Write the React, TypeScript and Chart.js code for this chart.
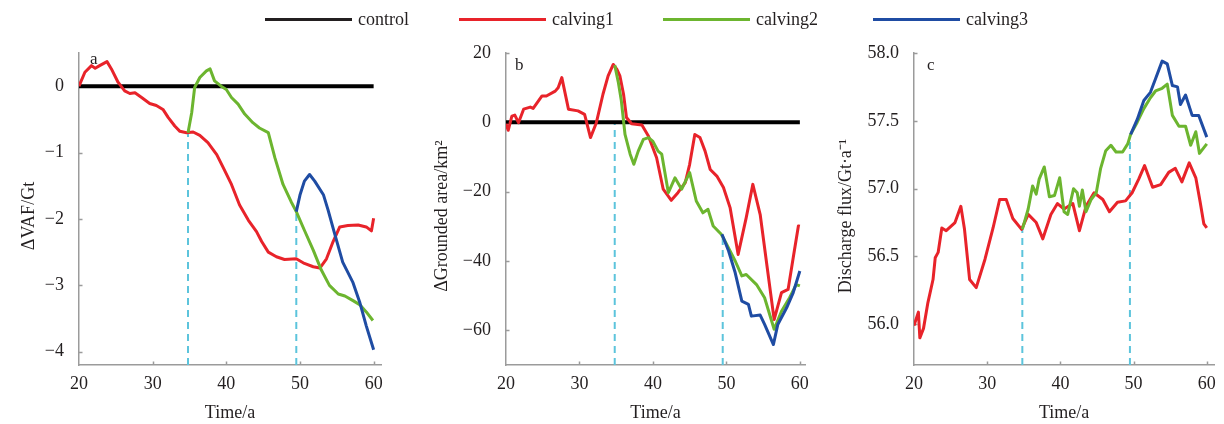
import { useEffect, useRef } from 'react';
import { Chart, registerables } from 'chart.js';

Chart.register(...registerables);

const FONT = "'Times New Roman', 'Liberation Serif', serif";
const TEXT = '#231f20';
const AXIS = '#9b9b9b';
const BLACK = '#000000';
const RED = '#e8232a';
const GREEN = '#6cb52f';
const BLUE = '#1f4ca3';
const CYAN = '#5cc4dc';

// ---------- shared ----------
const xTicks = [20, 30, 40, 50, 60];
const calvingTimes = [34.8, 49.5];

// ---------- panel a : ΔVAF/Gt ----------
const aTicks = [0, -1, -2, -3, -4];
const aControlT = [20, 60];
const aControlV = [0, 0];
const aRedT = [20, 20.8, 21.7, 22.2, 22.8, 23.8, 24.4, 25.3, 26.2, 26.9, 27.6, 28.5, 29.6, 30.5, 31.4, 32.1, 33.0, 33.7, 34.6, 35.5, 36.4, 37.5, 38.7, 39.6, 40.7, 41.8, 43.0, 44.1, 44.8, 45.7, 46.8, 47.9, 49.5, 50.6, 51.8, 52.7, 53.6, 54.5, 55.4, 56.5, 57.9, 59.0, 59.7, 60];
const aRedV = [0, 0.21, 0.31, 0.27, 0.31, 0.37, 0.26, 0.06, -0.07, -0.11, -0.10, -0.17, -0.26, -0.29, -0.35, -0.47, -0.60, -0.68, -0.70, -0.69, -0.74, -0.85, -1.03, -1.23, -1.48, -1.79, -2.02, -2.19, -2.34, -2.50, -2.57, -2.61, -2.60, -2.67, -2.72, -2.74, -2.60, -2.34, -2.12, -2.10, -2.09, -2.12, -2.18, -1.99];
const aGreenT = [34.8, 35.3, 35.7, 36.4, 37.3, 37.8, 38.4, 39.3, 40.0, 40.7, 41.6, 42.5, 43.6, 44.5, 45.7, 46.6, 47.7, 48.8, 49.5, 50.6, 51.8, 52.9, 54.0, 55.2, 56.1, 57.2, 58.1, 59.0, 59.9];
const aGreenV = [-0.70, -0.40, -0.02, 0.13, 0.23, 0.26, 0.08, 0.0, -0.05, -0.17, -0.27, -0.42, -0.55, -0.63, -0.70, -1.08, -1.48, -1.74, -1.89, -2.17, -2.47, -2.77, -3.0, -3.13, -3.16, -3.23, -3.29, -3.40, -3.53];
const aBlueT = [49.5, 50.0, 50.6, 51.3, 52.0, 53.2, 53.8, 54.6, 55.8, 57.2, 58.1, 59.0, 60.0];
const aBlueV = [-1.89, -1.64, -1.43, -1.33, -1.43, -1.64, -1.86, -2.18, -2.65, -2.96, -3.25, -3.61, -3.97];
const aDashTop = [-0.70, -1.89];

// ---------- panel b : ΔGrounded area/km² ----------
const bTicks = [20, 0, -20, -40, -60];
const bControlT = [20, 60];
const bControlV = [0, 0];
const bRedT = [20, 20.3, 20.8, 21.2, 21.7, 22.4, 23.3, 23.7, 24.9, 25.5, 26.7, 27.1, 27.6, 28.5, 29.8, 30.7, 31.5, 32.3, 33.2, 33.9, 34.6, 35.1, 35.5, 36.0, 36.4, 37.1, 38.5, 39.4, 40.5, 41.4, 42.5, 43.4, 44.4, 45.0, 45.7, 46.4, 47.1, 47.8, 48.7, 49.6, 50.5, 51.6, 52.7, 53.6, 54.6, 55.5, 56.5, 57.5, 58.4, 59.1, 59.8, 60];
const bRedV = [-0.4, -2.3, 1.8, 2.1, -0.1, 3.8, 4.4, 4.0, 7.6, 7.6, 9.0, 10.0, 12.9, 3.8, 3.3, 2.3, -4.4, -0.1, 8.1, 13.4, 16.7, 15.3, 13.4, 8.1, 1.4, -0.4, -0.8, -4.0, -10.2, -19.3, -22.5, -20.3, -17.4, -12.1, -3.5, -4.4, -8.3, -13.6, -15.5, -18.8, -24.6, -38.1, -27.5, -17.9, -26.6, -41.0, -56.9, -49.1, -48.2, -39.0, -29.9, -30.0];
const bGreenT = [34.8, 35.3, 35.7, 36.2, 36.9, 37.4, 38.0, 38.7, 39.4, 40.0, 40.7, 41.2, 42.1, 43.0, 43.9, 45.0, 45.9, 46.8, 47.5, 48.2, 49.3, 49.8, 51.2, 52.1, 52.7, 54.1, 55.2, 56.5, 57.5, 58.6, 59.5, 60];
const bGreenV = [16.5, 11.4, 6.2, -3.5, -9.2, -12.1, -8.3, -4.9, -4.4, -5.5, -8.3, -9.2, -20.3, -16.0, -19.3, -14.5, -22.7, -26.1, -25.1, -29.9, -32.3, -34.2, -40.0, -44.3, -43.9, -46.8, -50.6, -59.7, -54.5, -50.6, -46.8, -47.2];
const bBlueT = [49.4, 50.3, 51.2, 52.1, 53.0, 53.4, 54.6, 55.2, 56.4, 57.0, 58.2, 59.1, 60];
const bBlueV = [-32.3, -37.1, -43.4, -51.6, -52.5, -55.9, -55.6, -58.3, -64.1, -58.3, -53.5, -49.1, -42.9];
const bDashTop = [0, -32.3];

// ---------- panel c : Discharge flux/Gt·a⁻¹ ----------
const cTicks = [58.0, 57.5, 57.0, 56.5, 56.0];
const cRedT = [20, 20.6, 20.8, 21.3, 21.9, 22.6, 22.9, 23.3, 23.8, 24.4, 25.6, 26.4, 26.9, 27.6, 28.5, 29.7, 30.8, 31.7, 32.6, 33.5, 34.7, 35.6, 36.7, 37.6, 38.7, 39.6, 40.5, 41.7, 42.6, 43.5, 44.6, 45.8, 46.7, 47.8, 48.9, 49.8, 50.7, 51.5, 52.6, 53.7, 54.8, 55.7, 56.6, 57.6, 58.5, 59.1, 59.6, 60];
const cRedV = [55.99, 56.09, 55.90, 55.97, 56.16, 56.33, 56.49, 56.53, 56.71, 56.69, 56.75, 56.87, 56.70, 56.33, 56.27, 56.48, 56.71, 56.92, 56.92, 56.78, 56.70, 56.81, 56.75, 56.63, 56.81, 56.89, 56.85, 56.89, 56.69, 56.87, 56.97, 56.92, 56.83, 56.90, 56.91, 56.97, 57.07, 57.17, 57.01, 57.03, 57.12, 57.15, 57.05, 57.19, 57.08, 56.90, 56.74, 56.71];
const cGreenT = [34.8, 35.6, 36.2, 36.7, 37.1, 37.8, 38.5, 39.2, 39.9, 40.5, 41.0, 41.8, 42.3, 42.6, 43.0, 43.5, 44.2, 44.9, 45.5, 46.2, 46.9, 47.6, 48.5, 49.2, 49.6, 50.5, 51.4, 52.3, 53.0, 53.9, 54.6, 55.3, 56.2, 57.1, 57.8, 58.5, 59.0, 60];
const cGreenV = [56.70, 56.85, 57.02, 56.96, 57.07, 57.16, 56.94, 56.95, 57.08, 56.83, 56.81, 57.0, 56.97, 56.87, 56.99, 56.83, 56.92, 56.97, 57.15, 57.28, 57.32, 57.27, 57.27, 57.33, 57.40, 57.49, 57.59, 57.67, 57.72, 57.74, 57.77, 57.54, 57.46, 57.46, 57.32, 57.42, 57.26, 57.33];
const cBlueT = [49.6, 50.5, 51.4, 52.3, 53.0, 53.9, 54.6, 55.3, 56.0, 56.4, 57.1, 58.0, 58.9, 60];
const cBlueV = [57.40, 57.51, 57.65, 57.71, 57.81, 57.94, 57.92, 57.76, 57.75, 57.62, 57.69, 57.54, 57.54, 57.38];
const cDashTop = [56.70, 57.40];

const legendItems = [
  { label: 'control', color: TEXT, left: 265 },
  { label: 'calving1', color: RED, left: 459 },
  { label: 'calving2', color: GREEN, left: 663 },
  { label: 'calving3', color: BLUE, left: 873 },
];

const zip = (t: number[], v: number[]) => t.map((x, i) => ({ x, y: v[i] }));

const decoPlugin = {
  id: 'panelDeco',
  beforeDatasetsDraw(chart: any, _args: any, opts: any) {
    const { ctx, chartArea } = chart;
    const xs = chart.scales.x;
    const ys = chart.scales.y;
    ctx.save();
    // inward tick marks
    ctx.strokeStyle = AXIS;
    ctx.lineWidth = 1.5;
    ctx.beginPath();
    for (const t of xs.ticks) {
      if (t.value === xs.min) continue;
      const px = Math.round(xs.getPixelForValue(t.value)) + 0.5;
      ctx.moveTo(px, chartArea.bottom);
      ctx.lineTo(px, chartArea.bottom - 3.5);
    }
    for (const t of ys.ticks) {
      const py = Math.round(ys.getPixelForValue(t.value)) + 0.5;
      ctx.moveTo(chartArea.left, py);
      ctx.lineTo(chartArea.left + 3.5, py);
    }
    ctx.stroke();
    // panel letter
    ctx.fillStyle = TEXT;
    ctx.font = `17px ${FONT}`;
    ctx.textBaseline = 'alphabetic';
    ctx.textAlign = 'left';
    ctx.fillText(opts.letter, opts.lx, opts.ly);
    // y-axis title
    ctx.font = `18px ${FONT}`;
    ctx.textBaseline = 'middle';
    ctx.textAlign = 'center';
    ctx.translate(opts.tx, opts.ty);
    ctx.rotate(-Math.PI / 2);
    ctx.fillText(opts.title, 0, 0);
    ctx.restore();
  },
};

type PanelSpec = {
  letter: string;
  lx: number;
  ly: number;
  width: number;
  yWidth: number;
  rightPad: number;
  xMax: number;
  yMin: number;
  yMax: number;
  yTicks: number[];
  yTitle: string;
  tx: number;
  fmt: (v: number) => string;
  control?: { t: number[]; v: number[] };
  red: { t: number[]; v: number[] };
  green: { t: number[]; v: number[] };
  blue: { t: number[]; v: number[] };
  dashTop: number[];
};

const minusFmt = (v: number) => (v < 0 ? '\u2212' + Math.abs(v) : String(v));

const panels: PanelSpec[] = [
  {
    letter: 'a', lx: 90, ly: 64, width: 400, yWidth: 79, rightPad: 19, xMax: 61,
    yMin: -4.2, yMax: 0.5, yTicks: aTicks, yTitle: '\u0394VAF/Gt', tx: 29, fmt: minusFmt,
    control: { t: aControlT, v: aControlV },
    red: { t: aRedT, v: aRedV }, green: { t: aGreenT, v: aGreenV }, blue: { t: aBlueT, v: aBlueV },
    dashTop: aDashTop,
  },
  {
    letter: 'b', lx: 115, ly: 70, width: 420, yWidth: 106, rightPad: 15, xMax: 60.7,
    yMin: -70, yMax: 20, yTicks: bTicks, yTitle: '\u0394Grounded area/km\u00b2', tx: 42, fmt: minusFmt,
    control: { t: bControlT, v: bControlV },
    red: { t: bRedT, v: bRedV }, green: { t: bGreenT, v: bGreenV }, blue: { t: bBlueT, v: bBlueV },
    dashTop: bDashTop,
  },
  {
    letter: 'c', lx: 107, ly: 70, width: 404, yWidth: 94, rightPad: 9, xMax: 61,
    yMin: 55.7, yMax: 58.0, yTicks: cTicks, yTitle: 'Discharge flux/Gt\u00b7a\u207b\u00b9', tx: 26,
    fmt: (v: number) => v.toFixed(1),
    red: { t: cRedT, v: cRedV }, green: { t: cGreenT, v: cGreenV }, blue: { t: cBlueT, v: cBlueV },
    dashTop: cDashTop,
  },
];

const panelLefts = [0, 400, 820];

function buildConfig(p: PanelSpec): any {
  const datasets: any[] = [];
  calvingTimes.forEach((t, i) => {
    datasets.push({
      label: 'calving time ' + (i + 1),
      data: [{ x: t, y: p.yMin }, { x: t, y: p.dashTop[i] }],
      borderColor: CYAN,
      borderWidth: 2,
      borderDash: [7, 5],
      order: 6,
    });
  });
  if (p.control) {
    datasets.push({ label: 'control', data: zip(p.control.t, p.control.v), borderColor: BLACK, borderWidth: 4, order: 5 });
  }
  datasets.push({ label: 'calving1', data: zip(p.red.t, p.red.v), borderColor: RED, borderWidth: 3, order: 3 });
  datasets.push({ label: 'calving2', data: zip(p.green.t, p.green.v), borderColor: GREEN, borderWidth: 3, order: 2 });
  datasets.push({ label: 'calving3', data: zip(p.blue.t, p.blue.v), borderColor: BLUE, borderWidth: 3, order: 1 });

  const tickFont = { family: FONT, size: 18 };
  return {
    type: 'line',
    data: { datasets },
    plugins: [decoPlugin],
    options: {
      animation: false,
      responsive: false,
      events: [],
      devicePixelRatio: 1,
      layout: { padding: { top: 53, right: p.rightPad, left: 0, bottom: 0 } },
      elements: {
        point: { radius: 0 },
        line: { tension: 0, borderCapStyle: 'butt', borderJoinStyle: 'round', fill: false },
      },
      plugins: {
        legend: { display: false },
        tooltip: { enabled: false },
        panelDeco: { letter: p.letter, lx: p.lx, ly: p.ly, title: p.yTitle, tx: p.tx, ty: 216 },
      },
      scales: {
        x: {
          type: 'linear',
          min: 20,
          max: p.xMax,
          afterBuildTicks: (s: any) => { s.ticks = xTicks.map((v) => ({ value: v })); },
          afterFit: (s: any) => { s.height = 59; },
          grid: { display: false, drawTicks: false },
          border: { color: AXIS, width: 1.5 },
          ticks: { font: tickFont, color: TEXT, padding: 8, maxRotation: 0, autoSkip: false },
          title: { display: true, text: 'Time/a', font: tickFont, color: TEXT, padding: { top: 0, bottom: 0 } },
        },
        y: {
          type: 'linear',
          min: p.yMin,
          max: p.yMax,
          afterBuildTicks: (s: any) => { s.ticks = p.yTicks.map((v) => ({ value: v })); },
          afterFit: (s: any) => { s.width = p.yWidth; },
          grid: { display: false, drawTicks: false },
          border: { color: AXIS, width: 1.5 },
          ticks: { font: tickFont, color: TEXT, padding: 15, autoSkip: false, callback: (v: any) => p.fmt(Number(v)) },
          title: { display: false, text: p.yTitle },
        },
      },
    },
  };
}

function Panel({ spec, left }: { spec: PanelSpec; left: number }) {
  const ref = useRef<HTMLCanvasElement | null>(null);
  useEffect(() => {
    if (!ref.current) return;
    const chart = new Chart(ref.current, buildConfig(spec));
    return () => chart.destroy();
  }, [spec]);
  return (
    <canvas
      ref={ref}
      width={spec.width}
      height={424}
      style={{ position: 'absolute', left, top: 0, width: spec.width, height: 424 }}
    />
  );
}

function Legend() {
  return (
    <>
      {legendItems.map((it) => (
        <div
          key={it.label}
          style={{
            position: 'absolute', left: it.left, top: 0, height: 38,
            display: 'flex', alignItems: 'center', whiteSpace: 'nowrap',
          }}
        >
          <span style={{ display: 'inline-block', width: 87, height: 3, background: it.color, marginRight: 6 }} />
          <span style={{ fontFamily: FONT, fontSize: 18, lineHeight: 1, color: TEXT }}>{it.label}</span>
        </div>
      ))}
    </>
  );
}

export default function App() {
  return (
    <div style={{ position: 'absolute', left: 0, top: 0, width: 1224, height: 424, background: '#ffffff', overflow: 'hidden' }}>
      {panels.map((p, i) => (
        <Panel key={p.letter} spec={p} left={panelLefts[i]} />
      ))}
      <Legend />
    </div>
  );
}
